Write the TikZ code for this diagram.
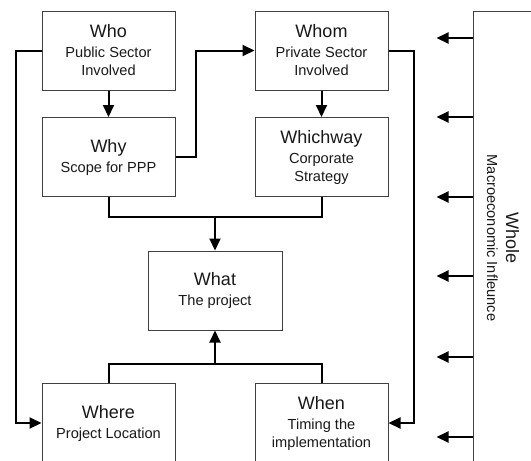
\documentclass[tikz,border=0pt]{standalone}
\usepackage{fontspec}
\setmainfont{Liberation Sans}
\usetikzlibrary{arrows.meta,calc}
\newcommand{\hdfont}{\fontsize{18}{21}\selectfont}
\newcommand{\subfont}{\fontsize{14.6}{18}\selectfont}
\tikzset{
  box/.style={draw=black!75, line width=1pt, minimum width=133pt, minimum height=79pt,
    inner sep=0pt, align=center, text=black!90, font=\subfont},
  link/.style={line width=2pt, black},
  arr/.style={link, -{Triangle[length=12pt,width=11pt]}},
}
\begin{document}
\begin{tikzpicture}[x=1pt,y=-1pt]
  \useasboundingbox (0,0) rectangle (531,461);
  \clip (0,0) rectangle (531,461);
  \fill[white] (0,0) rectangle (531,461);

  % the six question boxes and the project in the middle
  \node[box] (who)   at (108.5,50.5) {{\hdfont Who}\\[2pt]Public Sector\\Involved};
  \node[box] (why)   at (108.5,157)  {{\hdfont Why}\\[2pt]Scope for PPP};
  \node[box] (whom)  at (321.5,50.5) {{\hdfont Whom}\\[2pt]Private Sector\\Involved};
  \node[box] (which) at (321.5,157)  {{\hdfont Whichway}\\[2pt]Corporate\\Strategy};
  \node[box, minimum width=134pt] (what) at (215,290.5) {{\hdfont What}\\[2pt]The project};
  \node[box, minimum height=80pt] (where) at (108.5,423) {{\hdfont Where}\\[2pt]Project Location};
  \node[box, minimum height=80pt] (when)  at (321.5,423) {{\hdfont When}\\[2pt]Timing the\\implementation};

  % the surrounding macroeconomic frame on the right
  \node[draw=black!75, line width=1pt, minimum width=64pt, minimum height=454pt, inner sep=0pt]
    (whole) at (505,238) {};
  \node[rotate=-90, align=center, text=black!90, font=\subfont] (wholetext) at (503,238)
    {{\hdfont Whole}\\[1pt]Macroeconomic Infleunce};

  % vertical links
  \draw[arr] (who.south) -- (why.north);
  \draw[arr] (whom.south) -- (which.north);

  % cross links
  \draw[arr] (why.east) -- ++(20,0) |- (whom.west);
  \draw[arr] (whom.east) -- ++(25,0) |- (when.east);
  \draw[arr] (who.west) -- ++(-26,0) |- (where.west);

  % merging into the project
  \coordinate (jt) at ($(what.north)+(0,-34)$);
  \coordinate (jb) at ($(what.south)+(0,33)$);
  \draw[link] (why.south) |- (jt) -| (which.south);
  \draw[arr] (jt) -- (what.north);
  \draw[link] (where.north) |- (jb) -| (when.north);
  \draw[arr] (jb) -- (what.south);

  % influence arrows from the frame
  \foreach \y in {38,117,197,276,357,437}
    \draw[arr] (whole.west |- 0,\y) -- ++(-36,0);
\end{tikzpicture}
\end{document}
